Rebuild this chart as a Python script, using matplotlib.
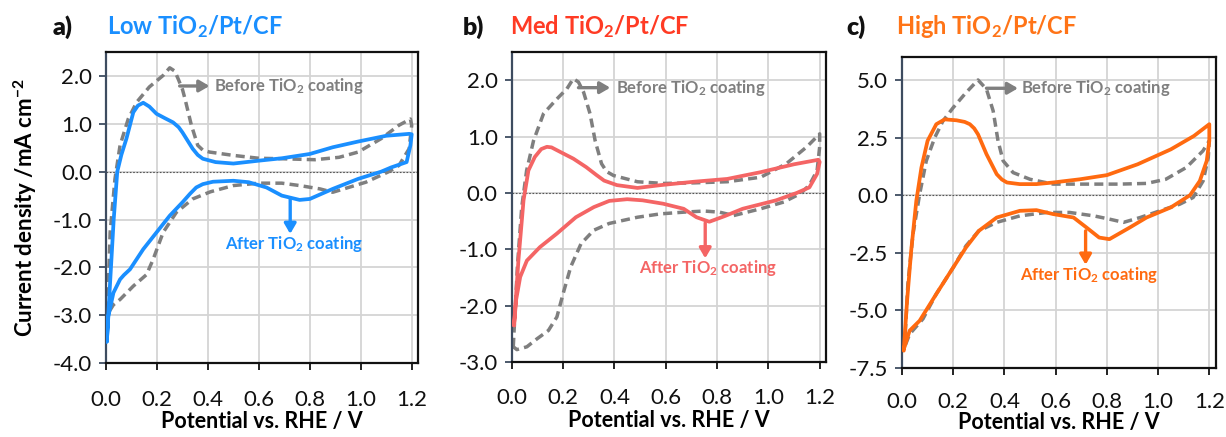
import matplotlib
matplotlib.use("Agg")
import matplotlib.pyplot as plt
from matplotlib.ticker import MultipleLocator, FormatStrFormatter

plt.rcParams['font.family'] = ['Lato', 'DejaVu Sans']
plt.rcParams['mathtext.fontset'] = 'custom'
plt.rcParams['mathtext.rm'] = 'Lato'
plt.rcParams['mathtext.bf'] = 'Lato:bold'
plt.rcParams['mathtext.it'] = 'Lato:italic'

# ---------------- data ----------------
# Panel a: Low TiO2/Pt/CF
a_after_x = [0.003, 0.015, 0.03, 0.044, 0.06, 0.08, 0.107, 0.125, 0.146, 0.17, 0.198, 0.23, 0.263, 0.285,
             0.30, 0.32, 0.34, 0.36, 0.38, 0.43,
             0.50, 0.60, 0.69, 0.80, 0.89, 0.99, 1.10, 1.19, 1.20, 1.195, 1.18, 1.12, 1.08, 0.99, 0.89,
             0.80, 0.76, 0.69, 0.63, 0.56, 0.50, 0.42, 0.38, 0.354, 0.33, 0.30, 0.25, 0.198, 0.146, 0.094, 0.07,
             0.055, 0.029, 0.009, 0.003]
a_after_y = [-3.55, -2.4, -1.0, 0.0, 0.35, 0.69, 1.24, 1.38, 1.44, 1.36, 1.21, 1.12, 1.03, 0.93,
             0.82, 0.65, 0.48, 0.35, 0.27, 0.20,
             0.17, 0.23, 0.28, 0.37, 0.51, 0.63, 0.75, 0.79, 0.78, 0.55, 0.20, 0.09, 0.0, -0.15, -0.36,
             -0.57, -0.59, -0.50, -0.33, -0.22, -0.19, -0.21, -0.26, -0.33, -0.46, -0.64, -0.92, -1.27, -1.62,
             -2.04, -2.16, -2.25, -2.53, -3.02, -3.55]
a_before_x = [0.006, 0.016, 0.035, 0.055, 0.087, 0.12, 0.17, 0.224, 0.25, 0.27, 0.283, 0.30, 0.31, 0.335,
              0.36, 0.38, 0.406,
              0.50, 0.60, 0.69, 0.82, 0.915, 0.99, 1.08, 1.15, 1.195, 1.20, 1.19, 1.15, 1.11, 1.02, 0.89,
              0.84, 0.76, 0.69, 0.60, 0.50, 0.41, 0.34, 0.276, 0.224, 0.185, 0.159, 0.107, 0.055, 0.029,
              0.009, 0.006]
a_before_y = [-2.9, -1.27, -0.15, 0.55, 1.10, 1.45, 1.77, 2.01, 2.17, 2.10, 1.94, 1.72, 1.52, 0.97,
              0.55, 0.45, 0.41,
              0.34, 0.28, 0.27, 0.25, 0.30, 0.41, 0.69, 0.97, 1.10, 0.97, 0.48, 0.13, 0.0, -0.22, -0.43,
              -0.36, -0.29, -0.24, -0.24, -0.29, -0.42, -0.57, -0.85, -1.27, -1.83, -2.15, -2.39, -2.67,
              -2.78, -2.95, -2.9]

# Panel b: Med TiO2/Pt/CF
b_after_x = [0.009, 0.026, 0.046, 0.065, 0.09, 0.115, 0.137, 0.155, 0.176, 0.21, 0.24, 0.29, 0.33, 0.36,
             0.41, 0.49, 0.58, 0.71,
             0.84, 0.97, 1.10, 1.195, 1.20, 1.19, 1.16, 1.11, 1.03, 0.90, 0.83, 0.77, 0.72, 0.67, 0.59,
             0.51, 0.45, 0.38, 0.32, 0.25, 0.176, 0.11, 0.059, 0.033, 0.017, 0.009]
b_after_y = [-2.35, -1.2, -0.13, 0.40, 0.64, 0.78, 0.82, 0.81, 0.76, 0.68, 0.61, 0.46, 0.32, 0.22,
             0.14, 0.09, 0.14, 0.20,
             0.25, 0.37, 0.51, 0.59, 0.55, 0.34, 0.10, 0.0, -0.13, -0.28, -0.41, -0.51, -0.43, -0.28, -0.19,
             -0.13, -0.11, -0.14, -0.25, -0.43, -0.72, -0.96, -1.2, -1.49, -1.9, -2.35]
b_before_x = [0.006, 0.012, 0.022, 0.039, 0.058, 0.085, 0.124, 0.176, 0.215, 0.24, 0.26, 0.28, 0.305, 0.325,
              0.35, 0.37, 0.397, 0.49, 0.59, 0.71, 0.84, 0.97, 1.07, 1.15, 1.20, 1.20, 1.19, 1.16, 1.125,
              1.06, 0.97, 0.865, 0.81, 0.75, 0.67, 0.58, 0.49, 0.38, 0.32, 0.27, 0.23, 0.20, 0.176, 0.143,
              0.098, 0.059, 0.02, 0.006]
b_before_y = [-2.73, -2.2, -1.31, -0.25, 0.40, 0.93, 1.41, 1.67, 1.85, 2.03, 1.97, 1.79, 1.41, 0.93,
              0.52, 0.38, 0.31, 0.20, 0.17, 0.18, 0.20, 0.28, 0.52, 0.82, 1.05, 0.82, 0.40, 0.14, -0.01,
              -0.16, -0.28, -0.40, -0.34, -0.32, -0.34, -0.37, -0.43, -0.54, -0.66, -0.90, -1.31, -1.79,
              -2.20, -2.44, -2.59, -2.73, -2.78, -2.73]

# Panel c: High TiO2/Pt/CF
c_after_x = [0.007, 0.02, 0.036, 0.056, 0.076, 0.10, 0.134, 0.167, 0.213, 0.245, 0.265, 0.282, 0.297, 0.33,
             0.37, 0.39, 0.41, 0.46, 0.525, 0.59, 0.695, 0.80, 0.92, 1.05, 1.14, 1.20, 1.20, 1.19, 1.163,
             1.125, 1.05, 0.955, 0.89, 0.81, 0.77, 0.72, 0.67, 0.59, 0.525, 0.46, 0.37, 0.30, 0.25, 0.20,
             0.134, 0.069, 0.03, 0.007]
c_after_y = [-6.75, -4.58, -2.41, -0.25, 1.20, 2.36, 3.08, 3.29, 3.25, 3.18, 3.08, 2.90, 2.64, 1.78,
             0.91, 0.68, 0.55, 0.48, 0.48, 0.55, 0.69, 0.87, 1.34, 1.99, 2.57, 3.08, 2.36, 1.49, 0.62,
             0.0, -0.53, -0.97, -1.40, -1.91, -1.84, -1.40, -0.97, -0.82, -0.65, -0.68, -0.97, -1.55,
             -2.27, -3.14, -4.29, -5.45, -5.88, -6.68]
c_before_x = [0.01, 0.023, 0.043, 0.069, 0.095, 0.128, 0.16, 0.20, 0.25, 0.297, 0.33, 0.356, 0.375, 0.395,
              0.434, 0.50, 0.59, 0.72, 0.85, 0.955, 1.03, 1.11, 1.175, 1.20, 1.196, 1.176, 1.137, 1.085,
              1.007, 0.93, 0.865, 0.81, 0.75, 0.655, 0.565, 0.46, 0.37, 0.30, 0.25, 0.20, 0.134, 0.082,
              0.03, 0.01]
c_before_y = [-6.6, -3.86, -1.69, 0.04, 1.49, 2.50, 3.22, 3.80, 4.45, 5.00, 4.60, 3.66, 2.36, 1.49,
              0.98, 0.69, 0.48, 0.48, 0.48, 0.51, 0.69, 1.20, 1.92, 2.36, 1.63, 0.62, -0.10, -0.39,
              -0.68, -0.97, -1.18, -1.04, -0.90, -0.75, -0.75, -0.90, -1.18, -1.55, -2.20, -3.14, -4.29,
              -5.37, -6.03, -6.6]

panel_letters = ["a)", "b)", "c)"]
panel_names = ["Low", "Med", "High"]
ylims = [(-4.0, 2.5), (-3.0, 2.5), (-7.5, 6.0)]
ysteps = [1.0, 1.0, 2.5]

# ---------------- style ----------------
title_colors = ["#1A8FFF", "#FF3B24", "#FF7417"]
line_colors = ["#1A8FFF", "#F46565", "#FF6A10"]
gray = "#7F7F7F"

axes_rects = [
    [0.0865, 0.169, 0.2545, 0.712],
    [0.4174, 0.1716, 0.2564, 0.709],
    [0.7357, 0.158, 0.2559, 0.7117],
]
xtick_pads = [14, 14, 12]
xlabel_pads = [1, 1, 0]

before_arrow = [((0.289, 1.79), (0.406, 1.79)), ((0.26, 1.87), (0.384, 1.87)), ((0.33, 4.64), (0.453, 4.64))]
before_text = [(0.425, 1.79), (0.405, 1.87), (0.465, 4.64)]
after_arrow = [((0.723, -0.57), (0.723, -1.30)), ((0.754, -0.53), (0.754, -1.16)), ((0.717, -1.55), (0.717, -3.02))]
after_text = [(0.739, -1.52), (0.767, -1.33), (0.731, -3.47)]
title_x = [(53, 107), (463, 510), (846, 896)]

fig = plt.figure(figsize=(12.26, 4.37), dpi=100)

data = [
    (a_after_x, a_after_y, a_before_x, a_before_y),
    (b_after_x, b_after_y, b_before_x, b_before_y),
    (c_after_x, c_after_y, c_before_x, c_before_y),
]

for i in range(3):
    ax = fig.add_axes(axes_rects[i])
    ax_x, ax_y, bx, by = data[i]
    ax.set_xlim(0, 1.225)
    ax.set_ylim(*ylims[i])
    ax.xaxis.set_major_locator(MultipleLocator(0.2))
    ax.yaxis.set_major_locator(MultipleLocator(ysteps[i]))
    ax.xaxis.set_major_formatter(FormatStrFormatter('%.1f'))
    ax.yaxis.set_major_formatter(FormatStrFormatter('%.1f'))
    ax.grid(True, color="#D4D4D4", linewidth=1.3, zorder=0)
    ax.set_axisbelow(True)
    ax.axhline(0, color="#555555", linewidth=0.8, linestyle=(0, (1.5, 1.5)), zorder=1)

    ax.plot(bx, by, color=gray, linewidth=2.5, dashes=(2.6, 1.5), zorder=2, solid_joinstyle='round')
    ax.plot(ax_x, ax_y, color=line_colors[i], linewidth=2.7, zorder=3,
            solid_joinstyle='round', solid_capstyle='round')

    for s in ["top", "right", "bottom"]:
        ax.spines[s].set_color("#111111")
        ax.spines[s].set_linewidth(1.6)
    ax.spines["left"].set_color("#3E4C60")
    ax.spines["left"].set_linewidth(1.6)
    ax.tick_params(axis='both', direction='out', length=5, width=1.3, labelsize=16,
                   colors="#111111", pad=5)
    ax.tick_params(axis='y', color="#3E4C60")
    ax.tick_params(axis='x', pad=xtick_pads[i])

    ax.set_xlabel("Potential vs. RHE / V", fontsize=15.5, fontweight='bold', labelpad=xlabel_pads[i])
    if i == 0:
        ax.set_ylabel(r"Current density /mA cm$^{\mathbf{-2}}$", fontsize=16,
                      fontweight='bold', labelpad=10)

    (s0, s1) = before_arrow[i]
    ax.annotate("", xy=s1, xytext=s0,
                arrowprops=dict(arrowstyle="-|>,head_length=0.6,head_width=0.35", color=gray, lw=2.4,
                                shrinkA=0, shrinkB=0))
    ax.text(before_text[i][0], before_text[i][1], r"Before TiO$_\mathbf{2}$ coating", color=gray,
            fontsize=12, fontweight='bold', va='center', ha='left')
    (s0, s1) = after_arrow[i]
    ax.annotate("", xy=s1, xytext=s0,
                arrowprops=dict(arrowstyle="-|>,head_length=0.6,head_width=0.35", color=line_colors[i],
                                lw=2.4, shrinkA=0, shrinkB=0))
    ax.text(after_text[i][0], after_text[i][1], r"After TiO$_\mathbf{2}$ coating", color=line_colors[i],
            fontsize=12, fontweight='bold', va='center', ha='center')

    lx, tx = title_x[i]
    fig.text(lx / 1226, 1 - 27 / 437, panel_letters[i], fontsize=18, fontweight='heavy',
             color="#111111", va='center', ha='left')
    fig.text(tx / 1226, 1 - 27 / 437, panel_names[i] + r" TiO$_\mathbf{2}$/Pt/CF", fontsize=17,
             fontweight='bold', color=title_colors[i], va='center', ha='left')

fig.savefig("out.png", dpi=100)
